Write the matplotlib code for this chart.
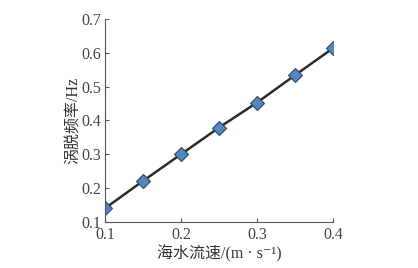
import matplotlib.pyplot as plt

# 海水流速与涡脱频率
speed = [0.1, 0.15, 0.2, 0.25, 0.3, 0.35, 0.4]
freq = [0.14, 0.221, 0.30, 0.379, 0.453, 0.534, 0.614]

xticks = [0.1, 0.2, 0.3, 0.4]
yticks = [0.1, 0.2, 0.3, 0.4, 0.5, 0.6, 0.7]

plt.rcParams['font.family'] = ['Liberation Serif', 'Noto Sans CJK SC', 'DejaVu Serif']
plt.rcParams['font.size'] = 11.5

fig = plt.figure(figsize=(4.18, 2.68), dpi=100)
ax = fig.add_axes([0.251, 0.172, 0.546, 0.757])
ax.plot(speed, freq, color='#2b2b2b', lw=1.8, marker='D', ms=7.5,
        markerfacecolor='#5586c0', markeredgecolor='#2f4660', markeredgewidth=0.8)

ax.set_xlim(0.1, 0.4)
ax.set_ylim(0.1, 0.7)
ax.set_xticks(xticks)
ax.set_yticks(yticks)
ax.set_xticklabels([str(t) for t in xticks])
ax.set_yticklabels([str(t) for t in yticks])
ax.tick_params(direction='in', length=3, color='#555555', labelcolor='#444444', pad=4)
ax.tick_params(axis='y', pad=3)
for s in ['top', 'right']:
    ax.spines[s].set_visible(False)
for s in ['left', 'bottom']:
    ax.spines[s].set_color('#555555')
    ax.spines[s].set_linewidth(0.8)

ax.set_xlabel('海水流速/(m · s⁻¹)', color='#333333', labelpad=1)
ax.set_ylabel('涡脱频率/Hz', color='#333333', labelpad=0)

fig.savefig('out.png', dpi=100)
